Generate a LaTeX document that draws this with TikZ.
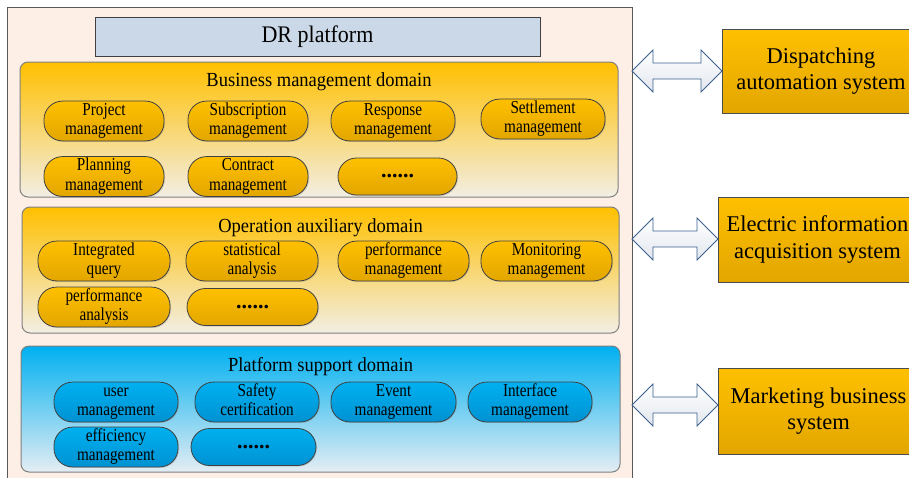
\documentclass[tikz,border=0pt]{standalone}
\usepackage{fontspec}
\usepackage{graphicx}
\setmainfont{Liberation Serif}
\usetikzlibrary{shadows}
\definecolor{frameFill}{HTML}{FDEFE6}
\definecolor{frameLine}{HTML}{595959}
\definecolor{drFill}{HTML}{CBD8E8}
\definecolor{goldTop}{HTML}{FFC000}
\definecolor{goldBot}{HTML}{E2A600}
\definecolor{paleBot}{HTML}{F2EEE4}
\definecolor{blueTop}{HTML}{00B0F0}
\definecolor{blueBot}{HTML}{0092D2}
\definecolor{paleBlue}{HTML}{E4EDF3}
\definecolor{arrowLine}{HTML}{3A5F8F}
\definecolor{arrowBot}{HTML}{E2E7EE}
\newcommand\dblarr[3]{%
  \draw[arrowstyle] (#1,#3) -- (#1+21,#3-21) -- (#1+21,#3-8) -- (#2-21,#3-8) -- (#2-21,#3-21) -- (#2,#3) -- (#2-21,#3+21) -- (#2-21,#3+8) -- (#1+21,#3+8) -- (#1+21,#3+21) -- cycle;}
\newcommand\twol[2]{\scalebox{1}[1.2]{\fontsize{15.2}{16.6}\selectfont\begin{tabular}{@{}c@{}}#1\\#2\end{tabular}}}
\newcommand\stretchtxt[1]{\scalebox{1}[1.08]{#1}}
\begin{document}
\begin{tikzpicture}[x=1pt,y=-1pt,
  framebox/.style={draw=frameLine, fill=frameFill, line width=1pt, anchor=north west, inner sep=0pt},
  drbox/.style={draw=black!75, fill=drFill, line width=0.9pt, inner sep=0pt, font=\fontsize{22}{24}\selectfont,
     drop shadow={shadow xshift=1.2pt, shadow yshift=-1.2pt, opacity=0.35}},
  dombox/.style={draw=black!50, line width=1pt, rounded corners=8pt, inner sep=0pt},
  golddom/.style={dombox, top color=goldTop, bottom color=paleBot},
  bluedom/.style={dombox, top color=blueTop, bottom color=paleBlue},
  domtitle/.style={inner sep=0pt, font=\fontsize{18.5}{20}\selectfont},
  pill/.style={draw=black!75, line width=0.8pt, rounded corners=18.5pt, minimum height=37pt, inner sep=0pt,
     drop shadow={shadow xshift=1pt, shadow yshift=-1pt, opacity=0.3}},
  goldpill/.style={pill, top color=goldTop, bottom color=goldBot},
  bluepill/.style={pill, top color=blueTop, bottom color=blueBot},
  dotstext/.style={font=\fontsize{22}{22}\selectfont\bfseries},
  sysbox/.style={draw=black!70, line width=0.9pt, top color=goldTop, bottom color=goldBot, inner sep=0pt,
     align=center, font=\fontsize{22.5}{26}\selectfont,
     drop shadow={shadow xshift=1.2pt, shadow yshift=-1.2pt, opacity=0.35}},
  arrowstyle/.style={draw=arrowLine, line width=0.8pt, top color=white, bottom color=arrowBot, line join=miter}
]
\useasboundingbox (0,0) rectangle (909,477);
\clip (0,0) rectangle (909,477);

% outer frame
\node[framebox, minimum width=625pt, minimum height=485pt] (frame) at (7,7) {};

% DR platform
\node[drbox, minimum width=445pt, minimum height=39pt] (dr) at (317.5,36.5) {\stretchtxt{DR platform}};

% Business management domain
\node[golddom, minimum width=598pt, minimum height=135pt] (bus) at (319,129.5) {};
\node[domtitle] (bust) at (319,82) {\stretchtxt{Business management domain}};
\node[goldpill, minimum width=120pt] (b1) at (104,121) {\twol{Project}{management}};
\node[goldpill, minimum width=120pt] (b2) at (248,121) {\twol{Subscription}{management}};
\node[goldpill, minimum width=124pt] (b3) at (393,121) {\twol{Response}{management}};
\node[goldpill, minimum width=124pt] (b4) at (543,119) {\twol{Settlement}{management}};
\node[goldpill, minimum width=120pt] (b5) at (104,176.5) {\twol{Planning}{management}};
\node[goldpill, minimum width=120pt] (b6) at (248,176.5) {\twol{Contract}{management}};
\node[goldpill, minimum width=119pt, dotstext] (b7) at (397.5,176.5) {......};

% Operation auxiliary domain
\node[golddom, minimum width=597pt, minimum height=126pt] (op) at (320.5,270) {};
\node[domtitle] (opt) at (320.5,228) {\stretchtxt{Operation auxiliary domain}};
\node[goldpill, minimum width=132pt] (o1) at (104,261) {\twol{Integrated}{query}};
\node[goldpill, minimum width=132pt] (o2) at (252,261) {\twol{statistical}{analysis}};
\node[goldpill, minimum width=131pt] (o3) at (403.5,261) {\twol{performance}{management}};
\node[goldpill, minimum width=131pt] (o4) at (546.5,261) {\twol{Monitoring}{management}};
\node[goldpill, minimum width=132pt] (o5) at (104,307) {\twol{performance}{analysis}};
\node[goldpill, minimum width=131pt, dotstext] (o6) at (252.5,307) {......};

% Platform support domain
\node[bluedom, minimum width=599pt, minimum height=126pt] (pl) at (320.5,409) {};
\node[domtitle] (plt) at (320.5,367) {\stretchtxt{Platform support domain}};
\node[bluepill, minimum width=124pt] (p1) at (116,402) {\twol{user}{management}};
\node[bluepill, minimum width=124pt] (p2) at (257,402) {\twol{Safety}{certification}};
\node[bluepill, minimum width=125pt] (p3) at (393.5,402) {\twol{Event}{management}};
\node[bluepill, minimum width=124pt] (p4) at (530,402) {\twol{Interface}{management}};
\node[bluepill, minimum width=124pt] (p5) at (116,447) {\twol{efficiency}{management}};
\node[bluepill, minimum width=125pt, dotstext] (p6) at (253.5,447) {......};

% external systems
\node[sysbox, minimum width=198pt, minimum height=84pt] (s1) at (821,71) {Dispatching\\automation system};
\node[sysbox, minimum width=199pt, minimum height=85pt] (s2) at (817.5,239.5) {Electric information\\acquisition system};
\node[sysbox, minimum width=201pt, minimum height=86pt] (s3) at (818.5,411) {Marketing business\\system};

% double arrows
\dblarr{632}{722}{71}
\dblarr{632}{718}{239}
\dblarr{632}{718}{405}
\end{tikzpicture}
\end{document}
